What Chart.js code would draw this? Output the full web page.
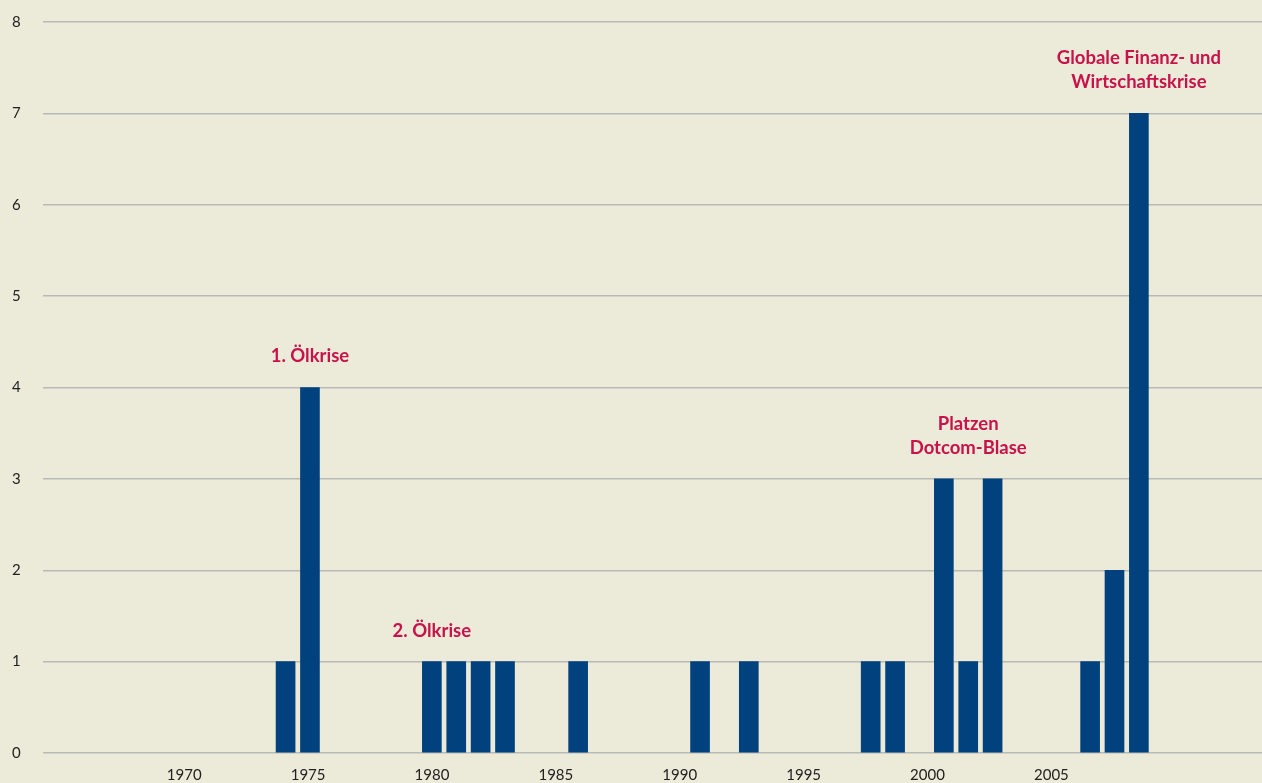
<!DOCTYPE html>
<html>
<head>
<meta charset="utf-8">
<script src="https://cdn.jsdelivr.net/npm/chart.js@4"></script>
<style>
  html, body { margin: 0; padding: 0; background: #ecead9; }
  #wrap { width: 1262px; height: 783px; position: relative; }
</style>
</head>
<body>
<div id="wrap"><canvas id="myChart"></canvas></div>
<script>
// Years and number of events per year
const years = [1970, 1971, 1972, 1973, 1974, 1975, 1976, 1977, 1978, 1979,
               1980, 1981, 1982, 1983, 1984, 1985, 1986, 1987, 1988, 1989,
               1990, 1991, 1992, 1993, 1994, 1995, 1996, 1997, 1998, 1999,
               2000, 2001, 2002, 2003, 2004, 2005, 2006, 2007, 2008, 2009];
const counts = [0, 0, 0, 0, 1, 4, 0, 0, 0, 0,
                1, 1, 1, 1, 0, 0, 1, 0, 0, 0,
                0, 1, 0, 1, 0, 0, 0, 0, 1, 1,
                0, 3, 1, 3, 0, 0, 0, 1, 2, 7];
const tickYears = [1970, 1975, 1980, 1985, 1990, 1995, 2000, 2005];

// Crisis notes: anchor year, anchor level, text lines
const noteYears = [1975, 1980, 2002, 2009];
const noteLevels = [4, 1, 3, 7];
const noteTexts = [['1. Ölkrise'], ['2. Ölkrise'], ['Platzen', 'Dotcom-Blase'], ['Globale Finanz- und', 'Wirtschaftskrise']];

const tickFont = { family: 'Lato', size: 15 };
const tickColor = '#222222';

const notesPlugin = {
    id: 'notes',
    afterDatasetsDraw(chart) {
        const ctx = chart.ctx;
        const xs = chart.scales.x;
        const ys = chart.scales.y;
        ctx.save();
        ctx.font = 'bold 18.5px Lato';
        ctx.fillStyle = '#c8124b';
        ctx.textAlign = 'center';
        ctx.textBaseline = 'middle';
        noteYears.forEach((yr, i) => {
            const x = xs.getPixelForValue(yr);
            const top = ys.getPixelForValue(noteLevels[i]);
            const lines = noteTexts[i];
            lines.forEach((t, j) => {
                const off = (lines.length - 1 - j) * 24;
                ctx.fillText(t, x, top - 31 - off);
            });
        });
        ctx.restore();
    }
};

const config = {
    type: 'bar',
    data: {
        datasets: [{
            // zero years draw no bar
            data: years.map((y, i) => ({ x: y, y: counts[i] || null })),
            backgroundColor: '#01427e',
            borderWidth: 0,
            barThickness: 19
        }]
    },
    options: {
        responsive: true,
        maintainAspectRatio: false,
        animation: false,
        layout: { padding: { top: 22, right: 0, left: 12, bottom: 0 } },
        plugins: {
            legend: { display: false },
            tooltip: { enabled: false }
        },
        scales: {
            x: {
                type: 'linear',
                min: 1964.05,
                max: 2014.05,
                offset: false,
                display: false
            },
            xLabels: {
                type: 'linear',
                position: 'bottom',
                min: 1964.3,
                max: 2013.5,
                offset: false,
                grid: { display: false, drawTicks: false },
                border: { display: false },
                afterBuildTicks: s => { s.ticks = tickYears.map(v => ({ value: v })); },
                afterFit: s => { s.height = 30; },
                ticks: {
                    font: tickFont,
                    color: tickColor,
                    padding: 13,
                    maxRotation: 0,
                    autoSkip: false,
                    callback: v => String(v)
                }
            },
            y: {
                min: 0,
                max: 8,
                ticks: { stepSize: 1, padding: 0, crossAlign: 'far', font: tickFont, color: tickColor },
                grid: { color: '#b9b9b6', lineWidth: 1.5, drawTicks: false },
                border: { display: false },
                afterFit: s => { s.width = 31; }
            }
        }
    },
    plugins: [notesPlugin]
};

const myChart = new Chart(document.getElementById('myChart'), config);
</script>
</body>
</html>
